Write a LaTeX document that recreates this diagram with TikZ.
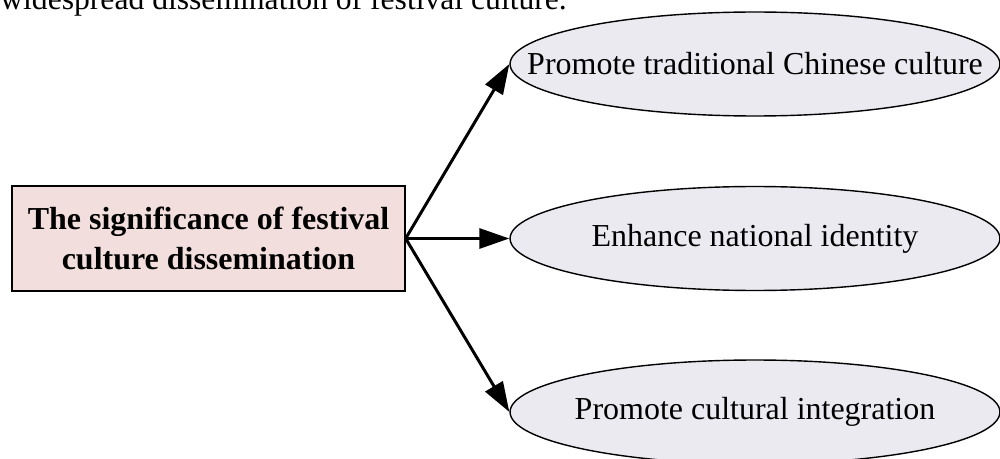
\documentclass[tikz,border=0pt]{standalone}
\usepackage{fontspec}
\setmainfont{Liberation Serif}
\usetikzlibrary{shapes.geometric,arrows.meta}
\definecolor{boxpink}{HTML}{F2DEDC}
\definecolor{ovalgray}{HTML}{EBEAF1}
\begin{document}
\begin{tikzpicture}[x=.02cm,y=-.02cm,
  mainbox/.style={draw,line width=.8pt,fill=boxpink,minimum width=7.86cm,minimum height=2.1cm,align=center,font=\fontsize{18.2}{23}\selectfont\bfseries},
  oval/.style={ellipse,draw,line width=.8pt,fill=ovalgray,inner sep=0pt,minimum width=9.8cm,minimum height=2.08cm,font=\fontsize{18.2}{22}\selectfont},
  arr/.style={line width=1.7pt,-{Triangle[length=6mm,width=4mm]}}]
  \clip (0,0) rectangle (1000,459);
  \node[anchor=base west,inner sep=0pt,font=\fontsize{18}{22}\selectfont] (cap) at (0,10) {widespread dissemination of festival culture.};
  \node[mainbox] (sig) at (208.5,238.5) {The significance of festival\\culture dissemination};
  \node[oval] (trad) at (755,64) {\makebox[0pt]{Promote traditional Chinese culture}};
  \node[oval] (nat) at (755,238.5) {\makebox[0pt]{Enhance national identity}};
  \node[oval] (integ) at (755,412) {\makebox[0pt]{Promote cultural integration}};
  \draw[arr] (sig.east) -- (trad.west); \draw[arr] (sig.east) -- (nat.west); \draw[arr] (sig.east) -- (integ.west);
\end{tikzpicture}
\end{document}
